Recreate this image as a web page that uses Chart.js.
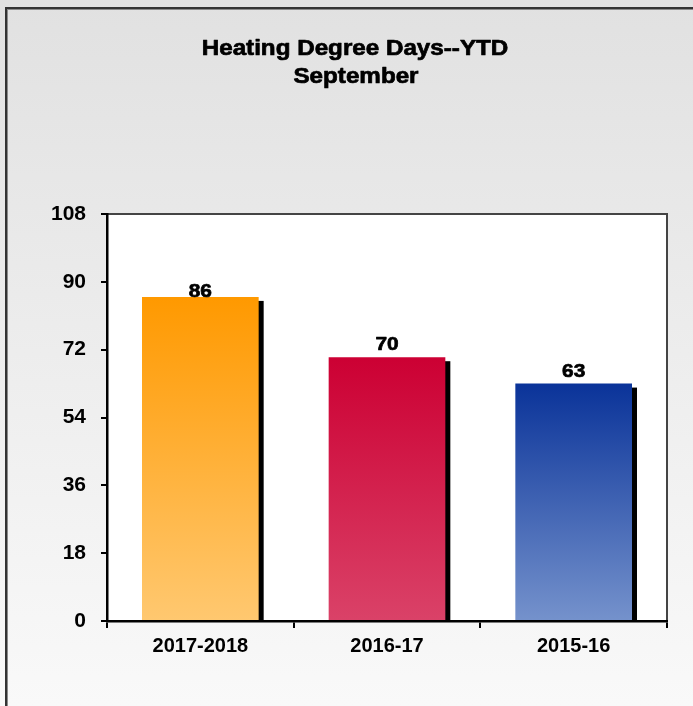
<!DOCTYPE html>
<html><head><meta charset="utf-8">
<script src="https://cdn.jsdelivr.net/npm/chart.js@4/dist/chart.umd.min.js"></script>
<style>html,body{margin:0;padding:0;background:#fff;}</style>
</head><body>
<canvas id="c" width="693" height="706"></canvas>
<script>
const titleLines = ['Heating Degree Days--YTD', 'September'];
const categories = ['2017-2018', '2016-17', '2015-16'];
const hddValues = [86, 70, 63];
const yTickValues = [0, 18, 36, 54, 72, 90, 108];

const topColors = ['#FF9900', '#CC0033', '#0A3399'];
const bottomColors = ['#FFC870', '#DA4268', '#7592CC'];
const labelGaps = [0, 7, 7];
const FONT = '"Liberation Sans", Arial, Helvetica, sans-serif';

function barGradient(ctx) {
  const chart = ctx.chart;
  const i = ctx.dataIndex;
  const ys = chart.scales.y;
  if (!ys || !chart.chartArea) return topColors[i];
  const top = ys.getPixelForValue(hddValues[i]);
  const bot = ys.getPixelForValue(0);
  const g = chart.ctx.createLinearGradient(0, top, 0, bot);
  g.addColorStop(0, topColors[i]);
  g.addColorStop(1, bottomColors[i]);
  return g;
}

function heavyText(ctx, text, x, y, sx) {
  ctx.save();
  ctx.translate(x, y);
  ctx.scale(sx, 1);
  ctx.lineWidth = 0.7;
  ctx.strokeStyle = '#000';
  ctx.lineJoin = 'round';
  ctx.fillText(text, 0, 0);
  ctx.strokeText(text, 0, 0);
  ctx.restore();
}

const deco = {
  id: 'deco',
  beforeDraw(chart) {
    const { ctx, width, height, chartArea: a } = chart;
    ctx.save();
    const g = ctx.createLinearGradient(0, 0, 0, height);
    g.addColorStop(0, '#e1e1e1');
    g.addColorStop(1, '#f9f9f9');
    ctx.fillStyle = g;
    ctx.fillRect(0, 0, width, height);
    // outer frame
    ctx.fillStyle = '#8a8a8a';
    ctx.fillRect(5, 7, width - 5, 3);
    ctx.fillRect(5, 7, 3, height - 7);
    ctx.fillStyle = '#333';
    ctx.fillRect(5, 7, width - 5, 2);
    ctx.fillRect(5, 7, 2, height - 7);
    // plot area
    ctx.fillStyle = '#ffffff';
    ctx.fillRect(a.left, a.top, a.right - a.left, a.bottom - a.top);
    ctx.strokeStyle = '#444';
    ctx.lineWidth = 2;
    ctx.beginPath();
    ctx.moveTo(a.left, a.top);
    ctx.lineTo(a.right, a.top);
    ctx.lineTo(a.right, a.bottom);
    ctx.stroke();
    // title
    ctx.fillStyle = '#000';
    ctx.font = 'bold 22px ' + FONT;
    ctx.textAlign = 'center';
    ctx.textBaseline = 'alphabetic';
    heavyText(ctx, titleLines[0], 355, 55, 1.1);
    heavyText(ctx, titleLines[1], 356, 83, 1.1);
    ctx.restore();
  },
  beforeDatasetsDraw(chart) {
    const ctx = chart.ctx;
    const meta = chart.getDatasetMeta(0);
    ctx.save();
    ctx.fillStyle = '#000';
    meta.data.forEach(b => {
      const p = b.getProps(['x', 'y', 'base', 'width'], true);
      ctx.fillRect(p.x + p.width / 2 - 1, p.y + 4, 6, p.base - p.y - 4);
    });
    ctx.restore();
  },
  afterDatasetsDraw(chart) {
    const ctx = chart.ctx;
    const meta = chart.getDatasetMeta(0);
    ctx.save();
    ctx.fillStyle = '#000';
    ctx.font = 'bold 19px ' + FONT;
    ctx.textAlign = 'center';
    ctx.textBaseline = 'alphabetic';
    meta.data.forEach((b, i) => {
      const p = b.getProps(['x', 'y'], true);
      heavyText(ctx, String(hddValues[i]), p.x, p.y - labelGaps[i], 1.1);
    });
    ctx.restore();
  }
};

new Chart(document.getElementById('c'), {
  type: 'bar',
  data: {
    labels: categories,
    datasets: [{
      data: hddValues,
      backgroundColor: barGradient,
      borderWidth: 0,
      categoryPercentage: 0.625,
      barPercentage: 1
    }]
  },
  options: {
    responsive: false,
    animation: false,
    devicePixelRatio: 1,
    layout: { padding: { top: 214, right: 26, left: 0, bottom: 0 } },
    plugins: { legend: { display: false }, title: { display: false }, tooltip: { enabled: false } },
    scales: {
      x: {
        grid: { offset: true, drawOnChartArea: false, drawTicks: true, tickLength: 7, color: '#000', lineWidth: 2 },
        border: { display: true, color: '#000', width: 2.5 },
        ticks: { color: '#000', font: { family: FONT, size: 20, weight: 'bold' }, padding: 6, maxRotation: 0 },
        afterFit(s) { s.height = 85; }
      },
      y: {
        min: 0, max: 108,
        afterBuildTicks(s) { s.ticks = yTickValues.map(v => ({ value: v })); },
        grid: { drawOnChartArea: false, drawTicks: true, tickLength: 6, color: '#000', lineWidth: 2 },
        border: { display: true, color: '#000', width: 2.5 },
        ticks: { color: '#000', font: { family: FONT, size: 21, weight: 'bold' }, padding: 15 },
        afterFit(s) { s.width = 107; }
      }
    }
  },
  plugins: [deco]
});
</script>
</body></html>
